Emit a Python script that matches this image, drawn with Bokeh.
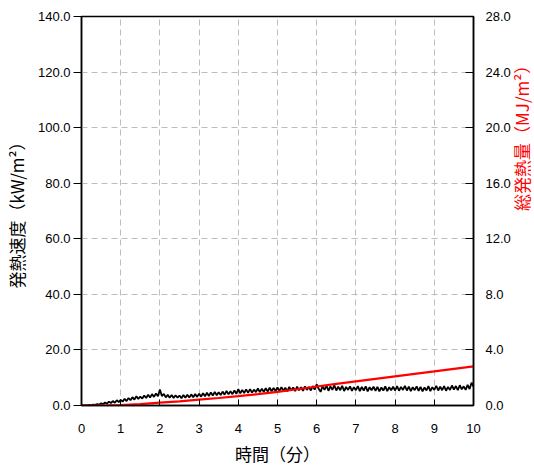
import math
from bokeh.plotting import figure
from bokeh.models import Range1d, LinearAxis, FixedTicker, NumeralTickFormatter, ColumnDataSource
from bokeh.embed import file_html
from bokeh.resources import INLINE

# --- data ---
x_ticks = [0, 1, 2, 3, 4, 5, 6, 7, 8, 9, 10]
y_left_ticks = [0, 20, 40, 60, 80, 100, 120, 140]
y_right_ticks = [0, 4, 8, 12, 16, 20, 24, 28]

# heat release rate (kW/m2), sampled every 0.05 min from 0 to 10 min
hrr_time = [i * 0.05 for i in range(201)]
hrr = [
    0.0, 0.0, 0.1, 0.0, 0.2, 0.1, 0.3, 0.2, 0.5, 0.3,
    0.8, 0.5, 1.1, 0.7, 1.4, 0.9, 1.6, 1.0, 1.9, 1.2,
    2.0, 1.4, 2.4, 1.6, 2.7, 1.9, 3.0, 2.1, 3.3, 2.4,
    3.2, 2.5, 3.6, 2.7, 3.9, 2.9, 4.1, 3.1, 4.3, 3.3,
    5.8, 3.4, 4.2, 2.9, 3.9, 2.8, 3.8, 2.7, 3.7, 2.8,
    3.6, 2.6, 3.8, 2.8, 3.9, 2.9, 4.0, 3.0, 4.1, 3.1,
    4.2, 3.2, 4.4, 3.3, 4.6, 3.4, 4.7, 3.6, 4.9, 3.7,
    4.8, 3.8, 5.0, 3.9, 5.2, 4.0, 5.1, 4.1, 5.4, 4.2,
    5.9, 4.4, 5.6, 4.5, 5.8, 4.6, 5.9, 4.7, 5.7, 4.8,
    6.1, 4.8, 6.0, 4.9, 6.2, 5.0, 6.4, 5.1, 6.3, 5.2,
    6.5, 5.2, 6.6, 5.3, 6.4, 5.1, 6.7, 5.4, 6.5, 5.2,
    6.8, 5.5, 6.6, 5.3, 6.9, 5.6, 6.7, 5.4, 7.0, 5.7,
    7.6, 6.0, 4.9, 7.0, 5.6, 7.2, 5.3, 6.9, 5.6, 7.3,
    5.4, 6.8, 5.5, 7.1, 5.2, 6.7, 5.6, 6.9, 5.3, 6.6,
    5.5, 7.0, 5.2, 6.7, 5.4, 6.9, 5.1, 6.6, 5.5, 6.8,
    5.3, 6.7, 5.1, 6.5, 5.4, 6.9, 5.2, 6.6, 5.5, 6.8,
    5.4, 7.0, 5.3, 6.7, 5.6, 7.1, 5.4, 6.8, 5.2, 6.6,
    5.5, 6.9, 5.3, 6.7, 5.1, 6.5, 5.4, 7.0, 5.2, 6.6,
    5.6, 7.1, 5.4, 6.8, 5.5, 7.0, 5.3, 6.7, 5.6, 7.2,
    5.7, 7.0, 5.5, 7.3, 5.8, 6.9, 5.6, 7.4, 5.9, 8.2,
    6.8,
]

# total heat release (MJ/m2), every 0.5 min
thr_time = [0.0, 0.5, 1.0, 1.5, 2.0, 2.5, 3.0, 3.5, 4.0, 4.5, 5.0,
            5.5, 6.0, 6.5, 7.0, 7.5, 8.0, 8.5, 9.0, 9.5, 10.0]
thr = [0.0, 0.0, 0.03, 0.1, 0.2, 0.3, 0.42, 0.54, 0.67, 0.82, 0.98,
       1.17, 1.37, 1.55, 1.73, 1.91, 2.09, 2.27, 2.45, 2.64, 2.82]

FONT = "Liberation Sans"
JP = "Noto Sans CJK JP"
FW, FH = 392, 389

p = figure(frame_width=FW, frame_height=FH, output_backend="svg", toolbar_location=None,
           x_range=Range1d(0, 10), y_range=Range1d(0, 140),
           min_border_left=73, min_border_right=60, min_border_top=16, min_border_bottom=54)
p.extra_y_ranges = {"right": Range1d(0, 28)}

p.background_fill_color = "white"
p.border_fill_color = "white"
p.outline_line_color = "black"
p.outline_line_width = 1.5

# grids
for g in (p.xgrid, p.ygrid):
    g.grid_line_color = "#bdbdbd"
    g.grid_line_dash = "6 4"
    g.grid_line_width = 1
p.xgrid.ticker = FixedTicker(ticks=x_ticks)
p.ygrid.ticker = FixedTicker(ticks=y_left_ticks)


def style(ax):
    ax.major_label_text_font = FONT
    ax.major_label_text_font_size = "13px"
    ax.major_label_text_color = "black"
    ax.axis_label_text_font = JP
    ax.axis_label_text_font_size = "17px"
    ax.axis_label_text_font_style = "normal"
    ax.axis_label_text_color = "black"
    ax.minor_tick_line_color = None
    ax.axis_line_width = 1.5
    ax.axis_line_color = "black"
    ax.major_tick_line_color = "black"


# x axis
xa = p.xaxis[0]
style(xa)
xa.ticker = FixedTicker(ticks=x_ticks)
xa.axis_label = "時間（分）"
xa.axis_label_standoff = 5
xa.major_label_standoff = 18
xa.major_tick_in = 6
xa.major_tick_out = 0

# left axis
ya = p.yaxis[0]
style(ya)
ya.ticker = FixedTicker(ticks=y_left_ticks)
ya.formatter = NumeralTickFormatter(format="0.0")
ya.axis_label = "発熱速度（kW/m²）"
ya.axis_label_standoff = 6
ya.major_label_standoff = 3
ya.major_tick_in = 0
ya.major_tick_out = 8

# right axis
ra = LinearAxis(y_range_name="right")
style(ra)
ra.ticker = FixedTicker(ticks=y_right_ticks)
ra.formatter = NumeralTickFormatter(format="0.0")
ra.major_label_standoff = 12
ra.major_tick_in = 8
ra.major_tick_out = 0
ra.axis_label = "総発熱量（MJ/m²）"
ra.axis_label_text_color = "red"
ra.axis_label_standoff = 8
ra.axis_label_orientation = math.pi / 2
p.add_layout(ra, "right")

src_hrr = ColumnDataSource(data=dict(t=hrr_time, v=hrr))
src_thr = ColumnDataSource(data=dict(t=thr_time, v=thr))
p.line("t", "v", source=src_hrr, line_color="black", line_width=1.8)
p.line("t", "v", source=src_thr, line_color="red", line_width=2.2, y_range_name="right")

open("out.html", "w").write(file_html(p, INLINE))
